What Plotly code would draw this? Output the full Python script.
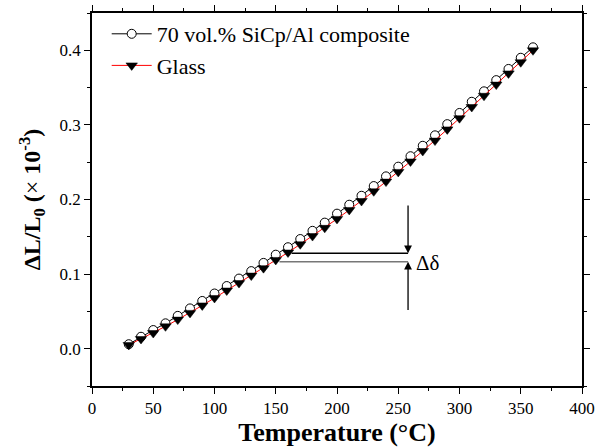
import plotly.graph_objects as go

temperature = [30, 40, 50, 60, 70, 80, 90, 100, 110, 120, 130, 140, 150, 160, 170, 180, 190,
               200, 210, 220, 230, 240, 250, 260, 270, 280, 290, 300, 310, 320, 330, 340, 350, 360]
composite = [0.006, 0.016, 0.025, 0.034, 0.044, 0.054, 0.064, 0.074, 0.084, 0.094, 0.104, 0.115,
             0.126, 0.136, 0.147, 0.158, 0.169, 0.181, 0.193, 0.205, 0.218, 0.231, 0.244, 0.258,
             0.272, 0.286, 0.301, 0.316, 0.331, 0.345, 0.360, 0.375, 0.390, 0.404]
glass = [0.005, 0.013, 0.021, 0.030, 0.039, 0.048, 0.058, 0.068, 0.078, 0.088, 0.098, 0.108,
         0.119, 0.129, 0.140, 0.151, 0.162, 0.174, 0.186, 0.198, 0.211, 0.224, 0.237, 0.251,
         0.265, 0.279, 0.294, 0.309, 0.324, 0.339, 0.354, 0.369, 0.384, 0.400]
x_ticks = [0, 50, 100, 150, 200, 250, 300, 350, 400]
y_ticks = [0.0, 0.1, 0.2, 0.3, 0.4]

FONT = "Liberation Serif, Times New Roman, serif"

fig = go.Figure()
fig.add_trace(go.Scatter(
    x=temperature, y=composite, mode="lines+markers", name="70 vol.% SiCp/Al composite",
    line=dict(color="black", width=1),
    marker=dict(symbol="circle", size=9, color="white", line=dict(color="black", width=1)),
))
fig.add_trace(go.Scatter(
    x=temperature, y=glass, mode="lines+markers", name="Glass",
    line=dict(color="red", width=1),
    marker=dict(symbol="triangle-down", size=10, color="black", line=dict(color="black", width=0.5)),
))

# Δδ guide lines
fig.add_shape(type="line", x0=163, x1=258, y0=0.128, y1=0.128, line=dict(color="black", width=1.5))
fig.add_shape(type="line", x0=153, x1=258, y0=0.1165, y1=0.1165, line=dict(color="#777777", width=1.5))
fig.add_annotation(x=258, y=0.128, ax=258, ay=0.194, xref="x", yref="y", axref="x", ayref="y",
                   text="", showarrow=True, arrowhead=2, arrowsize=1.2, arrowwidth=1.3, arrowcolor="black")
fig.add_annotation(x=258, y=0.1165, ax=258, ay=0.05, xref="x", yref="y", axref="x", ayref="y",
                   text="", showarrow=True, arrowhead=2, arrowsize=1.2, arrowwidth=1.3, arrowcolor="black")
fig.add_annotation(x=263, y=0.115, xref="x", yref="y", text="Δδ", showarrow=False,
                   xanchor="left", yanchor="middle", font=dict(family=FONT, size=21, color="black"))

axis_common = dict(
    showline=True, linecolor="black", linewidth=1.5, mirror="ticks",
    ticks="outside", ticklen=6, tickwidth=1, tickcolor="black",
    showgrid=False, zeroline=False,
    tickfont=dict(family=FONT, size=17, color="black"),
)

fig.update_xaxes(
    range=[0, 400], tickvals=x_ticks,
    minor=dict(dtick=25, ticklen=3, ticks="outside", tickcolor="black", showgrid=False),
    title=dict(text="<b>Temperature (°C)</b>", font=dict(family=FONT, size=26, color="black"), standoff=11),
    **axis_common,
)
fig.update_yaxes(
    range=[-0.05, 0.45], tickvals=y_ticks, tickformat=".1f",
    minor=dict(dtick=0.05, ticklen=3, ticks="outside", tickcolor="black", showgrid=False),
    title=dict(text="<b>ΔL/L<sub>0</sub> (</b>×<b> 10<sup>-3</sup>)</b>",
               font=dict(family=FONT, size=24, color="black"), standoff=12),
    **axis_common,
)

fig.update_layout(
    width=597, height=447,
    margin=dict(l=92, r=15, t=13, b=61, autoexpand=False),
    paper_bgcolor="white", plot_bgcolor="white",
    showlegend=True,
    legend=dict(x=0.03, y=1.0, xanchor="left", yanchor="top", traceorder="normal",
                font=dict(family=FONT, size=22, color="black"), bgcolor="rgba(0,0,0,0)",
                itemwidth=40, tracegroupgap=0),
)

fig.write_html("out.html")
